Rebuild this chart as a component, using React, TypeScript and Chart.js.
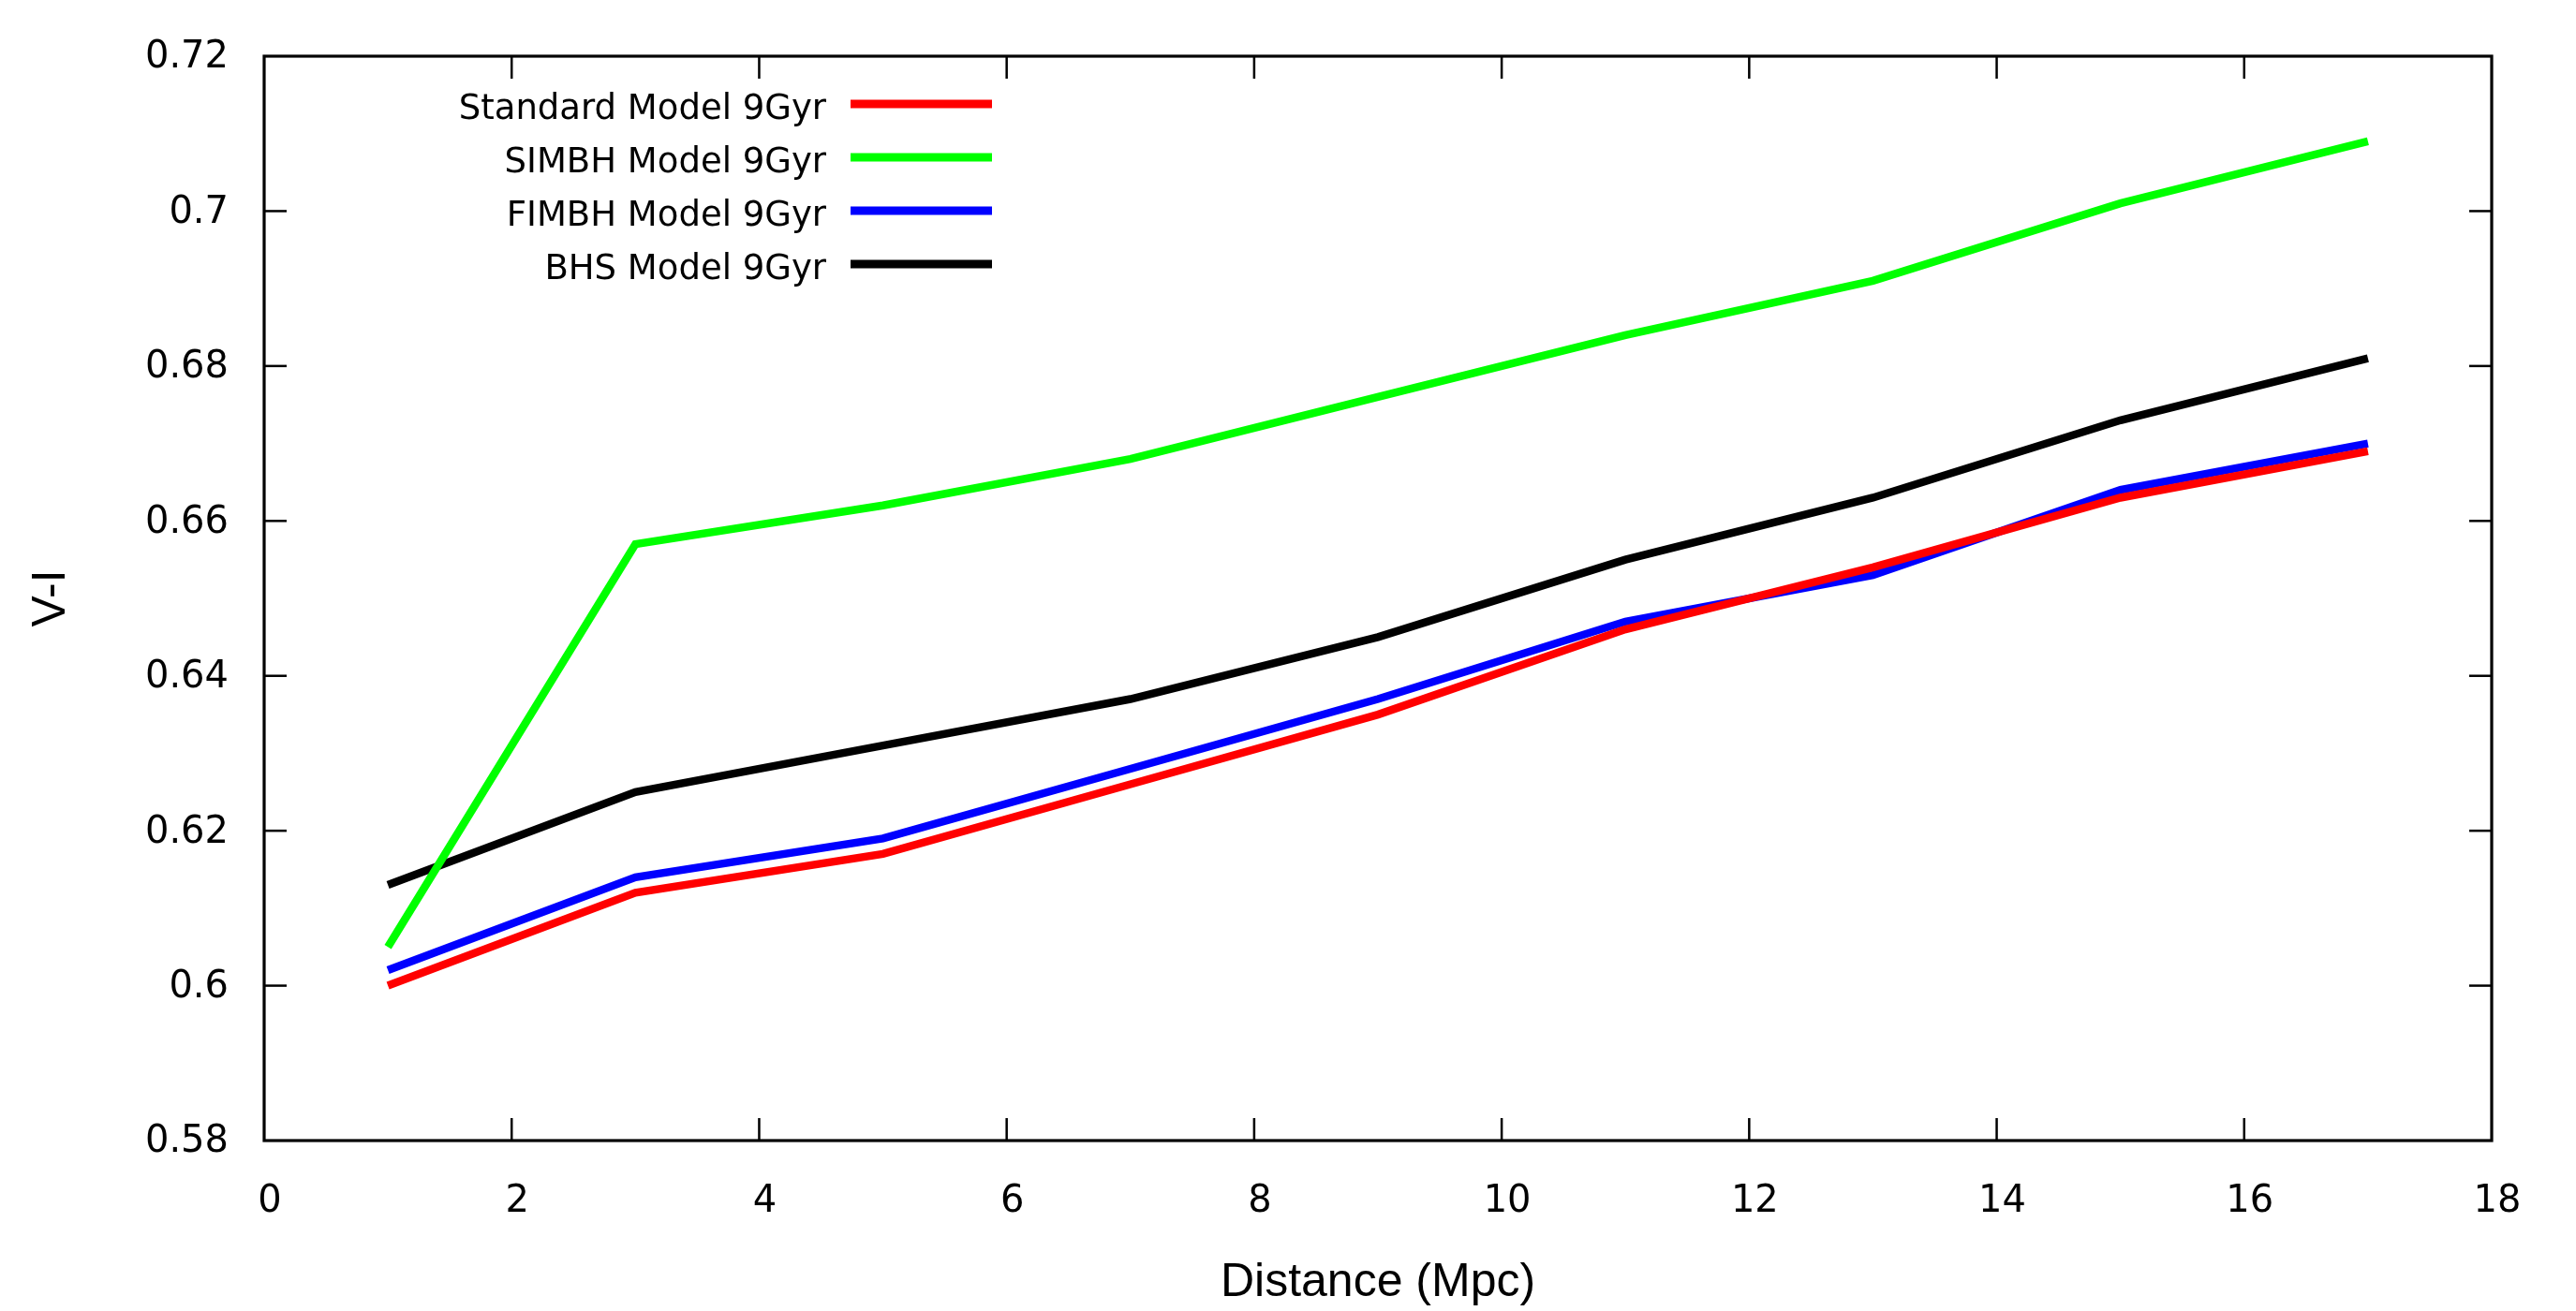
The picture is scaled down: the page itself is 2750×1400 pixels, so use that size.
import React, { useEffect, useRef } from 'react';
import { Chart, registerables } from 'chart.js';

Chart.register(...registerables);

// ---- data ----
const distances = [1, 3, 5, 7, 9, 11, 13, 15, 17];
const standardModel = [0.600, 0.612, 0.617, 0.626, 0.635, 0.646, 0.654, 0.663, 0.669];
const simbhModel = [0.605, 0.657, 0.662, 0.668, 0.676, 0.684, 0.691, 0.701, 0.709];
const fimbhModel = [0.602, 0.614, 0.619, 0.628, 0.637, 0.647, 0.653, 0.664, 0.670];
const bhsModel = [0.613, 0.625, 0.631, 0.637, 0.645, 0.655, 0.663, 0.673, 0.681];

const seriesLabels = ['Standard Model 9Gyr', 'SIMBH Model 9Gyr', 'FIMBH Model 9Gyr', 'BHS Model 9Gyr'];
const seriesColors = ['#ff0000', '#00ff00', '#0000ff', '#000000'];

const xTickValues = [0, 2, 4, 6, 8, 10, 12, 14, 16, 18];
const yTickValues = [0.58, 0.6, 0.62, 0.64, 0.66, 0.68, 0.7, 0.72];
const xTitle = 'Distance (Mpc)';
const yTitle = 'V-I';

const TICK_FONT = 'DejaVu Sans';
const TITLE_FONT = 'Liberation Sans';

const framePlugin = {
  id: 'gnuplotFrame',
  afterDatasetsDraw(chart: any) {
    const { ctx, chartArea: a, scales } = chart;
    const x = scales.x;
    const y = scales.y;
    const tickLen = 24;
    ctx.save();
    ctx.strokeStyle = '#000';
    ctx.lineCap = 'butt';
    ctx.lineWidth = 2.5;
    const seg = (x1: number, y1: number, x2: number, y2: number) => {
      ctx.beginPath();
      ctx.moveTo(x1, y1);
      ctx.lineTo(x2, y2);
      ctx.stroke();
    };
    x.ticks.forEach((t: any) => {
      if (t.value <= x.min || t.value >= x.max) return;
      const px = x.getPixelForValue(t.value);
      seg(px, a.bottom, px, a.bottom - tickLen);
      seg(px, a.top, px, a.top + tickLen);
    });
    y.ticks.forEach((t: any) => {
      if (t.value <= y.min + 1e-9 || t.value >= y.max - 1e-9) return;
      const py = y.getPixelForValue(t.value);
      seg(a.left, py, a.left + tickLen, py);
      seg(a.right, py, a.right - tickLen, py);
    });
    ctx.lineWidth = 3.2;
    ctx.lineJoin = 'miter';
    ctx.strokeRect(a.left, a.top, a.right - a.left, a.bottom - a.top);

    // key (legend) in the top-left of the plot
    const textRight = a.left + 600;
    const lineStart = a.left + 626;
    const lineEnd = a.left + 777;
    const firstLineY = a.top + 51;
    const rowGap = 57;
    ctx.font = `37px "${TICK_FONT}"`;
    ctx.fillStyle = '#000';
    ctx.textAlign = 'right';
    ctx.textBaseline = 'alphabetic';
    chart.data.datasets.forEach((ds: any, i: number) => {
      const cy = firstLineY + i * rowGap;
      ctx.fillText(ds.label, textRight, cy + 15.5);
      ctx.strokeStyle = ds.borderColor;
      ctx.lineWidth = 9;
      seg(lineStart, cy, lineEnd, cy);
    });
    ctx.restore();
  },
};

export default function App() {
  const canvasRef = useRef<HTMLCanvasElement | null>(null);

  useEffect(() => {
    const canvas = canvasRef.current;
    if (!canvas) return;
    const series = [standardModel, simbhModel, fimbhModel, bhsModel];
    const chart = new Chart(canvas, {
      type: 'line',
      data: {
        datasets: series.map((vals, i) => ({
          label: seriesLabels[i],
          data: distances.map((d, j) => ({ x: d, y: vals[j] })),
          borderColor: seriesColors[i],
          backgroundColor: seriesColors[i],
          borderWidth: 8.5,
          pointRadius: 0,
          tension: 0,
          fill: false,
          borderCapStyle: 'butt',
          borderJoinStyle: 'miter',
        })),
      },
      options: {
        responsive: false,
        animation: false,
        devicePixelRatio: 1,
        events: [],
        layout: { padding: { top: 60, right: 90, left: 0, bottom: 0 } },
        plugins: {
          legend: { display: false },
          tooltip: { enabled: false },
        },
        scales: {
          x: {
            type: 'linear',
            min: 0,
            max: 18,
            grid: { display: false },
            border: { display: false },
            afterBuildTicks: (scale: any) => {
              scale.ticks = xTickValues.map((v) => ({ value: v }));
            },
            afterFit: (scale: any) => {
              scale.height = 182;
            },
            ticks: {
              padding: 34,
              labelOffset: 6,
              maxRotation: 0,
              autoSkip: false,
              color: '#000',
              font: { family: TICK_FONT, size: 40 },
              callback: (v: any) => String(v),
            },
            title: {
              display: true,
              text: xTitle,
              color: '#000',
              font: { family: TITLE_FONT, size: 50 },
              padding: 0,
            },
          },
          y: {
            type: 'linear',
            min: 0.58,
            max: 0.72,
            grid: { display: false },
            border: { display: false },
            afterBuildTicks: (scale: any) => {
              scale.ticks = yTickValues.map((v) => ({ value: v }));
            },
            afterFit: (scale: any) => {
              scale.width = 282;
            },
            ticks: {
              padding: 30,
              labelOffset: 2,
              autoSkip: false,
              color: '#000',
              font: { family: TICK_FONT, size: 40 },
              callback: (v: any) => String(v),
            },
            title: {
              display: true,
              text: yTitle,
              color: '#000',
              font: { family: TITLE_FONT, size: 50 },
              padding: { top: 25, bottom: 0 },
            },
          },
        },
      },
      plugins: [framePlugin],
    } as any);
    return () => chart.destroy();
  }, []);

  return (
    <div style={{ position: 'absolute', left: 0, top: 0, width: 2750, height: 1400, background: '#fff' }}>
      <canvas ref={canvasRef} width={2750} height={1400} style={{ display: 'block', width: 2750, height: 1400 }} />
    </div>
  );
}
